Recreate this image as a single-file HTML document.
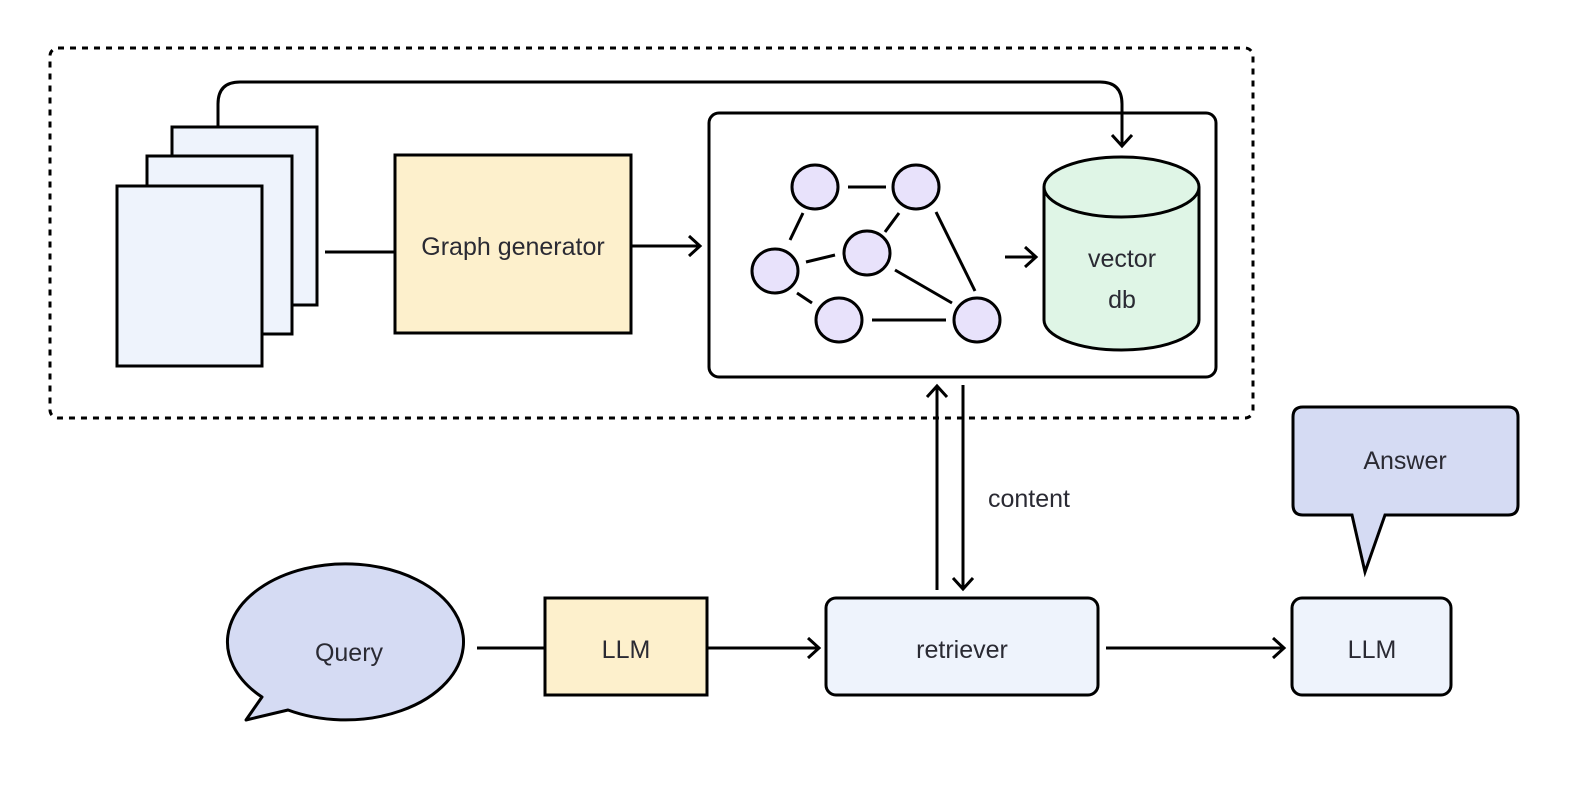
<!DOCTYPE html>
<html><head><meta charset="utf-8"><style>
html,body{margin:0;padding:0;background:#fff;}
svg text{font-family:"Liberation Sans","Noto Sans CJK SC",sans-serif;fill:#2a2a33;}
</style></head><body>
<svg width="1576" height="780" viewBox="0 0 1576 780" xmlns="http://www.w3.org/2000/svg">
<defs>
<marker id="ah" markerWidth="18" markerHeight="22" refX="14" refY="11" orient="auto" markerUnits="userSpaceOnUse">
<path d="M3,1 L14,11 L3,21" fill="none" stroke="#000" stroke-width="3"/>
</marker>
</defs>
<g stroke="#000" stroke-width="3" fill="none">
<rect x="50" y="48" width="1203" height="370" rx="8" stroke-dasharray="6 6"/>
<rect x="172" y="127" width="145" height="178" fill="#eef3fc"/>
<rect x="147" y="156" width="145" height="178" fill="#eef3fc"/>
<rect x="117" y="186" width="145" height="180" fill="#eef3fc"/>
<line x1="325" y1="252" x2="395" y2="252"/>
<rect x="395" y="155" width="236" height="178" fill="#fdf0cc"/>
<line x1="631" y1="246" x2="700" y2="246" marker-end="url(#ah)"/>
<rect x="709" y="113" width="507" height="264" rx="10" fill="#fff"/>
<path d="M218,127 L218,104 Q218,82 240,82 L1100,82 Q1122,82 1122,104 L1122,146" marker-end="url(#ah)"/>
<line x1="848" y1="187" x2="886" y2="187"/>
<line x1="803" y1="213" x2="790" y2="240"/>
<line x1="899" y1="213" x2="885" y2="232"/>
<line x1="806" y1="262" x2="835" y2="255"/>
<line x1="797" y1="293" x2="812" y2="303"/>
<line x1="895" y1="270" x2="952" y2="303"/>
<line x1="936" y1="212" x2="975" y2="291"/>
<line x1="872" y1="320" x2="946" y2="320"/>
<g fill="#e8e2fb">
<ellipse cx="815" cy="187" rx="23" ry="22"/>
<ellipse cx="916" cy="187" rx="23" ry="22"/>
<ellipse cx="867" cy="253" rx="23" ry="22"/>
<ellipse cx="775" cy="271" rx="23" ry="22"/>
<ellipse cx="839" cy="320" rx="23" ry="22"/>
<ellipse cx="977" cy="320" rx="23" ry="22"/>
</g>
<line x1="1005" y1="257" x2="1036" y2="257" marker-end="url(#ah)"/>
<path d="M1044,187 L1044,320 A77.5,30 0 0 0 1199,320 L1199,187 A77.5,30 0 0 0 1044,187 Z" fill="#dff5e6"/>
<path d="M1044,187 A77.5,30 0 0 0 1199,187"/>
<line x1="937" y1="590" x2="937" y2="386" marker-end="url(#ah)"/>
<line x1="963" y1="385" x2="963" y2="589" marker-end="url(#ah)"/>
<path d="M262,697 A118,78 0 1 1 288,710 L246,720 Z" fill="#d5dbf3" stroke-linejoin="round"/>
<line x1="477" y1="648" x2="545" y2="648"/>
<rect x="545" y="598" width="162" height="97" fill="#fdf0cc"/>
<line x1="707" y1="648" x2="819" y2="648" marker-end="url(#ah)"/>
<rect x="826" y="598" width="272" height="97" rx="10" fill="#eef3fc"/>
<line x1="1106" y1="648" x2="1284" y2="648" marker-end="url(#ah)"/>
<rect x="1292" y="598" width="159" height="97" rx="10" fill="#eef3fc"/>
<path d="M1303,407 L1508,407 Q1518,407 1518,417 L1518,505 Q1518,515 1508,515 L1385,515 L1365,572 L1352,515 L1303,515 Q1293,515 1293,505 L1293,417 Q1293,407 1303,407 Z" fill="#d5dbf3"/>
</g>
<g font-size="25" text-anchor="middle">
<text x="513" y="255">Graph generator</text>
<text x="1122" y="267">vector</text>
<text x="1122" y="308">db</text>
<text x="1029" y="507">content</text>
<text x="349" y="661">Query</text>
<text x="626" y="658">LLM</text>
<text x="962" y="658">retriever</text>
<text x="1372" y="658">LLM</text>
<text x="1405" y="469">Answer</text>
</g>
</svg>
</body></html>
